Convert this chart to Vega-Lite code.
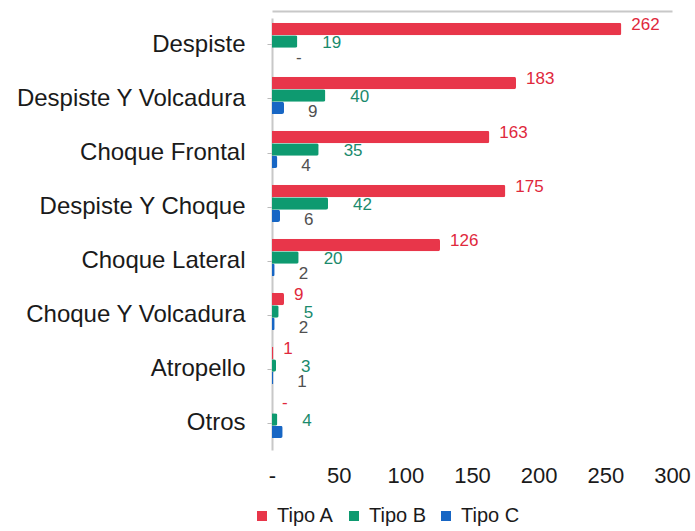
{
  "$schema": "https://vega.github.io/schema/vega-lite/v6.json",
  "width": 400,
  "height": 432,
  "autosize": "none",
  "padding": {"left": 272, "top": 18, "right": 23, "bottom": 81},
  "background": "white",
  "config": {"view": {"stroke": null}, "font": "Liberation Sans"},
  "data": {
    "values": [
      {"cat": "Despiste", "tipo": "Tipo A", "value": 262, "label": "262"},
      {"cat": "Despiste", "tipo": "Tipo B", "value": 19, "label": "19"},
      {"cat": "Despiste", "tipo": "Tipo C", "value": 0, "label": "-"},
      {"cat": "Despiste Y Volcadura", "tipo": "Tipo A", "value": 183, "label": "183"},
      {"cat": "Despiste Y Volcadura", "tipo": "Tipo B", "value": 40, "label": "40"},
      {"cat": "Despiste Y Volcadura", "tipo": "Tipo C", "value": 9, "label": "9"},
      {"cat": "Choque Frontal", "tipo": "Tipo A", "value": 163, "label": "163"},
      {"cat": "Choque Frontal", "tipo": "Tipo B", "value": 35, "label": "35"},
      {"cat": "Choque Frontal", "tipo": "Tipo C", "value": 4, "label": "4"},
      {"cat": "Despiste Y Choque", "tipo": "Tipo A", "value": 175, "label": "175"},
      {"cat": "Despiste Y Choque", "tipo": "Tipo B", "value": 42, "label": "42"},
      {"cat": "Despiste Y Choque", "tipo": "Tipo C", "value": 6, "label": "6"},
      {"cat": "Choque Lateral", "tipo": "Tipo A", "value": 126, "label": "126"},
      {"cat": "Choque Lateral", "tipo": "Tipo B", "value": 20, "label": "20"},
      {"cat": "Choque Lateral", "tipo": "Tipo C", "value": 2, "label": "2"},
      {"cat": "Choque Y Volcadura", "tipo": "Tipo A", "value": 9, "label": "9"},
      {"cat": "Choque Y Volcadura", "tipo": "Tipo B", "value": 5, "label": "5"},
      {"cat": "Choque Y Volcadura", "tipo": "Tipo C", "value": 2, "label": "2"},
      {"cat": "Atropello", "tipo": "Tipo A", "value": 1, "label": "1"},
      {"cat": "Atropello", "tipo": "Tipo B", "value": 3, "label": "3"},
      {"cat": "Atropello", "tipo": "Tipo C", "value": 1, "label": "1"},
      {"cat": "Otros", "tipo": "Tipo A", "value": 0, "label": "-"},
      {"cat": "Otros", "tipo": "Tipo B", "value": 4, "label": "4"},
      {"cat": "Otros", "tipo": "Tipo C", "value": 8, "label": ""}
    ]
  },
  "encoding": {
    "y": {
      "field": "cat",
      "type": "nominal",
      "sort": ["Despiste", "Despiste Y Volcadura", "Choque Frontal", "Despiste Y Choque", "Choque Lateral", "Choque Y Volcadura", "Atropello", "Otros"],
      "scale": {"paddingInner": 0.1, "paddingOuter": 0.05},
      "axis": {
        "title": null,
        "labelFontSize": 24,
        "labelColor": "#1a1a1a",
        "labelPadding": 22,
        "labelLimit": 300,
        "tickSize": 5,
        "tickColor": "#bbbbbb",
        "domainColor": "#c8c8c8",
        "domainWidth": 2
      }
    },
    "yOffset": {
      "field": "tipo",
      "type": "nominal",
      "sort": ["Tipo A", "Tipo B", "Tipo C"],
      "scale": {"paddingInner": 0, "paddingOuter": 0.45, "align": 0.18}
    }
  },
  "layer": [
    {
      "mark": {"type": "bar", "cornerRadiusEnd": 2},
      "encoding": {
        "x": {
          "field": "value",
          "type": "quantitative",
          "scale": {"domain": [0, 300], "nice": false},
          "axis": {
            "title": null,
            "grid": false,
            "ticks": false,
            "domain": false,
            "labelFontSize": 22,
            "labelColor": "#1a1a1a",
            "labelFlush": false,
            "values": [0, 50, 100, 150, 200, 250, 300],
            "labelExpr": "datum.value == 0 ? '-' : datum.label",
            "labelPadding": 15
          }
        },
        "color": {
          "field": "tipo",
          "type": "nominal",
          "scale": {"domain": ["Tipo A", "Tipo B", "Tipo C"], "range": ["#e8364a", "#0e9a70", "#1766c4"]},
          "legend": {
            "orient": "none",
            "legendX": -20,
            "legendY": 488,
            "direction": "horizontal",
            "title": null,
            "symbolType": "square",
            "symbolSize": 100,
            "symbolStrokeWidth": 0,
            "labelFontSize": 20,
            "labelColor": "#1a1a1a",
            "columnPadding": 9,
            "labelOffset": 5
          }
        }
      }
    },
    {
      "transform": [{"filter": "datum.tipo == 'Tipo A'"}],
      "mark": {"type": "text", "align": "left", "baseline": "middle", "dx": 10, "dy": -4, "fontSize": 17, "color": "#e0283c"},
      "encoding": {
        "text": {"field": "label"},
        "x": {
          "field": "value",
          "type": "quantitative",
          "axis": {"orient": "top", "labels": false, "ticks": false, "grid": false, "domainColor": "#c8c8c8", "domainWidth": 2, "offset": 7, "title": null}
        }
      }
    },
    {
      "transform": [{"filter": "datum.tipo == 'Tipo B'"}],
      "mark": {"type": "text", "align": "left", "baseline": "middle", "dx": 25, "dy": 2, "fontSize": 17, "color": "#1a8a6c"},
      "encoding": {
        "text": {"field": "label"},
        "x": {"field": "value", "type": "quantitative", "axis": null}
      }
    },
    {
      "transform": [{"filter": "datum.tipo == 'Tipo C'"}],
      "mark": {"type": "text", "align": "left", "baseline": "middle", "dx": 24, "dy": 4, "fontSize": 17, "color": "#505050"},
      "encoding": {
        "text": {"field": "label"},
        "x": {"field": "value", "type": "quantitative", "axis": null}
      }
    }
  ],
  "resolve": {"axis": {"x": "independent"}}
}
